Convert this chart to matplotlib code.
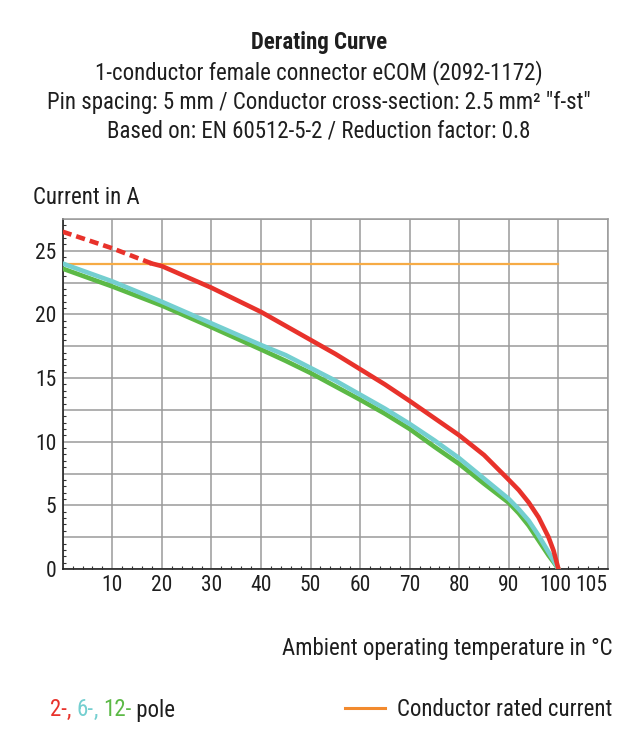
import matplotlib
matplotlib.use("Agg")
import matplotlib.pyplot as plt
import matplotlib.transforms as mtrans
from matplotlib import font_manager
from matplotlib.ticker import MultipleLocator

# condensed face like the reference, if one is installed
names = {f.name for f in font_manager.fontManager.ttflist}
family = 'DejaVu Sans'
for cand in ['Roboto Condensed', 'Liberation Sans Narrow', 'DejaVu Sans Condensed']:
    if cand in names:
        family = cand
        break
plt.rcParams['font.family'] = [family, 'DejaVu Sans']

# temperatures (deg C) and currents (A)
temp_red_dash = [0, 10, 18]
cur_red_dash = [26.5, 25.2, 24.0]
temp_red = [18, 20, 30, 40, 45, 50, 55, 60, 65, 70, 75, 80, 85, 90, 92, 94, 96, 98, 99, 100]
cur_red = [24.0, 23.8, 22.1, 20.2, 19.1, 18.0, 16.9, 15.7, 14.5, 13.2, 11.85, 10.5, 8.95,
           7.0, 6.2, 5.23, 4.06, 2.5, 1.46, 0.0]

temp_poles = [0, 10, 20, 30, 40, 45, 50, 55, 60, 65, 70, 75, 80, 85, 90, 92, 94, 96, 98, 99, 100]
cur_cyan = [24.0, 22.6, 21.0, 19.3, 17.6, 16.8, 15.8, 14.8, 13.7, 12.6, 11.4, 10.1, 8.7, 7.1,
            5.5, 4.7, 3.8, 2.63, 1.33, 0.68, 0.0]
cur_green = [23.6, 22.2, 20.7, 19.0, 17.25, 16.35, 15.4, 14.35, 13.3, 12.2, 11.0, 9.6, 8.25, 6.7,
             5.2, 4.38, 3.41, 2.24, 1.07, 0.55, 0.0]

rated_temp = [0, 100]
rated_cur = [24, 24]

x_ticks = [10, 20, 30, 40, 50, 60, 70, 80, 90, 100]
y_ticks = [0, 5, 10, 15, 20, 25]

red = '#e8322b'
cyan = '#74cfd0'
green = '#5cb946'
orange = '#f6ab45'
grid_c = '#9a9a9a'
txt = '#1e1e1e'
fs = 16.5
fs_tick = 15.5

fig = plt.figure(figsize=(6.38, 7.48), dpi=100)
ax = fig.add_axes([0.0983, 0.2393, 0.8547, 0.4679])

ax.plot(rated_temp, rated_cur, color=orange, lw=1.6, zorder=3)
ax.plot(temp_poles, cur_green, color=green, lw=3.3, zorder=4, solid_joinstyle='round')
ax.plot(temp_poles, cur_cyan, color=cyan, lw=3.3, zorder=5, solid_joinstyle='round')
ax.plot(temp_red, cur_red, color=red, lw=3.3, zorder=6, solid_joinstyle='round')
ax.plot(temp_red_dash, cur_red_dash, color=red, lw=3.3, zorder=6,
        dashes=(2.0, 1.1), dash_capstyle='butt')

ax.set_xlim(0, 110)
ax.set_ylim(0, 27.5)
ax.xaxis.set_minor_locator(MultipleLocator(2))
ax.yaxis.set_minor_locator(MultipleLocator(0.5))
ax.grid(True, which='major', color=grid_c, lw=1.1)
ax.set_axisbelow(True)

ax.set_xticks([0] + x_ticks + [110])
ax.set_xticklabels([''] + [str(t) for t in x_ticks] + [''])
y_pos = [v * 0.5 for v in range(0, 56, 5)]
ax.set_yticks(y_pos)
ax.set_yticklabels([str(int(v)) if v in y_ticks else '' for v in y_pos])
ax.text(106.6, -0.45, '105', ha='center', va='top', fontsize=fs_tick, color=txt)

ax.tick_params(which='major', length=0, labelsize=fs_tick, labelcolor=txt, pad=4.5)
ax.tick_params(which='minor', direction='in', length=2.5, width=0.8, color='#333333')

# the "100" label sits a little left of its gridline in the reference
lbl100 = ax.get_xticklabels()[-2]
lbl100.set_transform(lbl100.get_transform() +
                     mtrans.ScaledTranslation(-3 / 100, 0, fig.dpi_scale_trans))

for s in ['top', 'right']:
    ax.spines[s].set_color(grid_c)
    ax.spines[s].set_linewidth(1.1)
for s in ['left', 'bottom']:
    ax.spines[s].set_color('#222222')
    ax.spines[s].set_linewidth(1.2)

fig.text(0.5, 1 - 42 / 748, 'Derating Curve', ha='center', va='center', fontsize=fs,
         fontweight='bold', color=txt)
fig.text(0.5, 1 - 73 / 748, '1-conductor female connector eCOM (2092-1172)', ha='center',
         va='center', fontsize=fs, color=txt)
fig.text(0.5, 1 - 102 / 748, 'Pin spacing: 5 mm / Conductor cross-section: 2.5 mm² "f-st"',
         ha='center', va='center', fontsize=fs, color=txt)
fig.text(0.5, 1 - 131 / 748, 'Based on: EN 60512-5-2 / Reduction factor: 0.8', ha='center',
         va='center', fontsize=fs, color=txt)

fig.text(33 / 638, 1 - 198 / 748, 'Current in A', ha='left', va='center', fontsize=fs, color=txt)
fig.text(612 / 638, 1 - 648 / 748, 'Ambient operating temperature in °C', ha='right',
         va='center', fontsize=fs, color=txt)

# legend built from text pieces
parts = [('2-', red), (', ', red), ('6-', cyan), (', ', cyan), ('12-', green), (' pole', txt)]
x0 = 50 / 638
y0 = 1 - 710 / 748
fig.canvas.draw()
r = fig.canvas.get_renderer()
for s, c in parts:
    t = fig.text(x0, y0, s, ha='left', va='center', fontsize=fs, color=c)
    bb = t.get_window_extent(r)
    x0 += bb.width / fig.bbox.width

fig.add_artist(plt.Line2D([345 / 638, 385 / 638], [1 - 708 / 748, 1 - 708 / 748],
                          color='#f28a2e', lw=2.2))
fig.text(612 / 638, 1 - 710 / 748, 'Conductor rated current', ha='right', va='center',
         fontsize=fs, color=txt)

fig.savefig('out.png', dpi=100)
